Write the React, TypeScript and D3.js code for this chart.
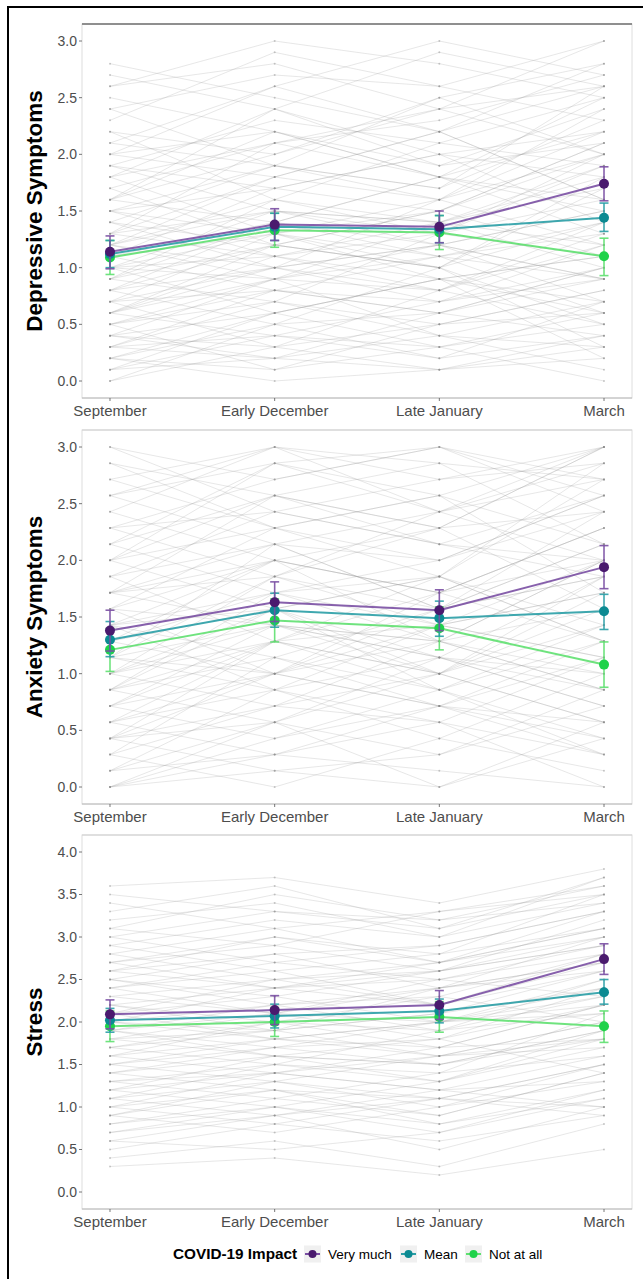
import React from 'react';
import * as d3 from 'd3';

const timepoints = ['September', 'Early December', 'Late January', 'March'];
const groups = ['Very much', 'Mean', 'Not at all'];
const pointColors = ['#4a1a6e', '#0c8a92', '#1fd24a'];
const lineColors = ['#7a4fa3', '#2a9ea6', '#5fe070'];

// Depressive symptoms
const depMean = [[1.14, 1.38, 1.36, 1.74], [1.12, 1.36, 1.34, 1.44], [1.09, 1.33, 1.31, 1.10]];
const depLo = [[0.99, 1.24, 1.22, 1.59], [1.0, 1.24, 1.22, 1.32], [0.94, 1.18, 1.16, 0.93]];
const depHi = [[1.28, 1.52, 1.50, 1.89], [1.24, 1.48, 1.46, 1.57], [1.24, 1.48, 1.46, 1.26]];
// Anxiety symptoms
const anxMean = [[1.38, 1.63, 1.56, 1.94], [1.30, 1.56, 1.49, 1.55], [1.21, 1.47, 1.40, 1.08]];
const anxLo = [[1.20, 1.46, 1.38, 1.75], [1.15, 1.41, 1.33, 1.39], [1.02, 1.28, 1.21, 0.88]];
const anxHi = [[1.56, 1.81, 1.74, 2.13], [1.46, 1.71, 1.64, 1.70], [1.40, 1.66, 1.59, 1.28]];
// Stress
const strMean = [[2.09, 2.14, 2.20, 2.74], [2.02, 2.07, 2.13, 2.35], [1.95, 2.00, 2.06, 1.95]];
const strLo = [[1.92, 1.97, 2.03, 2.56], [1.88, 1.93, 1.99, 2.21], [1.77, 1.83, 1.88, 1.76]];
const strHi = [[2.26, 2.31, 2.37, 2.92], [2.16, 2.21, 2.27, 2.50], [2.13, 2.17, 2.24, 2.13]];

// Individual trajectories (depressive: tenths)
const depIndiv = [
  [5,8,6,10],[12,15,14,18],[3,2,4,1],[20,22,18,25],[8,10,12,9],[15,13,16,20],[1,4,3,6],[26,28,24,30],[10,9,11,14],[6,12,10,5],
  [18,24,20,22],[2,0,1,3],[14,19,17,26],[9,7,13,11],[22,16,21,19],[4,6,9,2],[11,14,12,15],[7,3,5,8],[16,20,25,28],[13,11,9,6],
  [0,5,2,4],[24,27,26,23],[19,15,14,12],[3,8,7,10],[12,18,22,16],[28,25,22,26],[6,9,4,7],[10,13,15,21],[17,12,10,14],[5,1,3,0],
  [21,26,30,27],[8,14,11,13],[15,17,20,18],[2,5,6,9],[11,8,6,4],[25,22,19,24],[9,16,13,20],[4,3,8,5],[13,21,18,16],[7,10,7,12],
  [1,2,1,4],[16,14,18,22],[23,29,26,30],[10,6,9,7],[14,12,15,11],[6,11,14,17],[19,23,21,25],[3,7,5,8],[12,10,12,15],[20,18,22,16],
  [8,5,10,3],[26,30,28,25],[0,3,1,2],[15,19,16,24],[11,17,20,14],[5,9,8,12],[18,13,11,9],[9,12,10,18],[13,15,13,19],[2,1,5,6],
  [22,20,24,26],[7,13,9,11],[16,24,19,21],[4,9,12,7],[10,11,8,13],[24,19,25,20],[12,16,14,10],[6,4,7,9],[17,21,23,27],[1,6,3,5],
  [14,10,16,12],[9,14,18,15],[20,26,22,28],[3,4,2,7],[11,13,10,17],[27,24,29,26],[8,12,15,20],[5,7,4,3],[15,11,13,16],[13,18,16,22],
  [19,17,15,21],[7,8,11,6],[10,15,12,9],[2,6,9,11],[21,19,17,23],[6,10,8,14],[12,9,14,19],[16,22,18,13],[4,2,6,10],[18,21,24,20],
];
// Anxiety: sevenths
const anxIndiv = [
  [7,10,9,14],[3,5,4,2],[14,18,16,21],[0,2,1,0],[10,12,13,9],[5,9,7,11],[18,21,19,20],[8,6,10,12],[12,15,11,17],[1,4,0,3],
  [16,13,17,19],[6,8,5,4],[9,14,12,16],[21,19,21,18],[4,7,9,6],[11,10,8,13],[2,0,3,1],[13,17,15,14],[7,11,6,9],[15,20,18,21],
  [0,3,5,2],[10,8,11,15],[19,16,14,17],[5,10,8,7],[12,14,16,11],[3,1,2,5],[8,13,10,12],[17,21,20,15],[6,4,7,10],[14,11,13,9],
  [1,6,4,8],[20,18,16,21],[9,7,12,14],[4,9,6,3],[11,16,13,19],[7,5,9,6],[15,12,10,14],[2,5,7,4],[18,15,17,20],[10,14,9,11],
  [6,11,8,5],[13,9,12,16],[0,1,0,4],[16,19,21,17],[8,10,7,13],[3,7,5,9],[12,18,15,13],[21,17,19,21],[5,3,6,2],[9,12,14,18],
  [11,7,10,8],[4,6,3,7],[14,16,18,12],[7,13,11,15],[1,2,4,0],[17,14,12,16],[10,11,13,20],[6,9,10,8],[19,21,17,14],[3,4,8,6],
  [13,15,14,18],[8,7,5,3],[15,18,20,19],[2,8,6,10],[12,10,9,7],[5,7,11,13],[20,16,18,15],[9,11,7,12],[0,4,2,6],[14,20,17,21],
  [7,9,13,10],[11,14,12,9],[4,2,5,8],[16,17,15,18],[6,12,9,14],[10,6,8,5],[18,20,21,19],[3,9,7,4],[12,13,16,17],[8,15,11,13],
];
// Stress: tenths
const strIndiv = [
  [20,22,19,25],[15,17,18,14],[25,28,24,30],[8,10,7,12],[30,27,29,33],[12,14,16,18],[18,21,20,23],[22,19,24,27],[10,8,11,9],[27,30,28,35],
  [14,16,13,19],[6,9,5,10],[23,25,26,29],[17,15,19,21],[33,36,31,37],[11,13,10,15],[19,22,23,20],[26,24,27,31],[9,12,8,11],[21,18,20,24],
  [16,20,17,22],[29,32,30,34],[13,11,14,16],[24,26,22,28],[4,6,3,8],[20,19,21,26],[28,31,27,33],[7,9,11,10],[15,18,16,20],[35,33,32,36],
  [12,10,13,17],[22,24,25,23],[18,16,15,19],[31,29,33,35],[10,14,12,13],[25,23,26,30],[5,8,6,9],[19,17,20,25],[27,29,26,32],[14,12,11,15],
  [21,23,20,22],[8,11,9,14],[32,34,30,37],[16,14,17,18],[24,27,25,29],[11,9,12,10],[20,24,22,27],[29,26,28,31],[13,15,14,21],[17,20,19,23],
  [36,37,34,38],[9,7,10,13],[23,21,24,26],[15,13,16,17],[26,28,29,33],[6,5,7,11],[19,21,18,22],[30,33,31,35],[12,16,15,19],[22,20,23,28],
  [3,4,2,5],[18,19,21,24],[28,25,27,30],[10,12,9,14],[25,22,24,27],[14,17,15,18],[34,31,33,36],[16,18,20,21],[21,25,22,26],[7,10,8,12],
  [27,24,26,29],[13,14,12,16],[20,18,17,22],[31,35,32,34],[11,15,13,18],[24,21,25,28],[17,19,16,20],[9,13,11,15],[26,30,27,31],[19,16,18,24],
];

const depTicks = [0, 0.5, 1, 1.5, 2, 2.5, 3];
const anxTicks = [0, 0.5, 1, 1.5, 2, 2.5, 3];
const strTicks = [0, 0.5, 1, 1.5, 2, 2.5, 3, 3.5, 4];

const panels = [
  { title: 'Depressive Symptoms', top: 24, max: 3, ticks: depTicks, mean: depMean, lo: depLo, hi: depHi, indiv: depIndiv, div: 10, strongTop: true },
  { title: 'Anxiety Symptoms', top: 430, max: 3, ticks: anxTicks, mean: anxMean, lo: anxLo, hi: anxHi, indiv: anxIndiv, div: 7, strongTop: false },
  { title: 'Stress', top: 835, max: 4, ticks: strTicks, mean: strMean, lo: strLo, hi: strHi, indiv: strIndiv, div: 10, strongTop: false },
];

const FONT = '"Liberation Sans", Arial, Helvetica, sans-serif';
const LEFT = 82;
const RIGHT = 632;
const PH = 374;

function Panel({ p }: { p: any }) {
  const x = d3.scalePoint<string>().domain(timepoints).range([LEFT, RIGHT]).padding(0.17);
  const pad = p.max * 0.05;
  const y = d3.scaleLinear().domain([-pad, p.max + pad]).range([p.top + PH, p.top]);
  const line = d3.line<number>().x((_, i) => x(timepoints[i]) as number).y((d) => y(d));
  const bottom = p.top + PH;
  const order = [2, 1, 0];
  return (
    <g>
      <rect x={LEFT} y={p.top} width={RIGHT - LEFT} height={PH} fill="#fff" stroke="#dedede" strokeWidth={1} />
      <line x1={LEFT} x2={RIGHT} y1={p.top} y2={p.top} stroke={p.strongTop ? '#8f8f8f' : '#d0d0d0'} strokeWidth={p.strongTop ? 2 : 1} />
      <line x1={LEFT} x2={RIGHT} y1={bottom} y2={bottom} stroke="#b8b8b8" strokeWidth={1} />
      {p.indiv.map((tr: number[], i: number) => (
        <path key={'l' + i} d={line(tr.map((v) => v / p.div)) || ''} fill="none" stroke="#9c9c9c" strokeOpacity={0.3} strokeWidth={0.8} />
      ))}
      {p.indiv.map((tr: number[], i: number) =>
        tr.map((v, j) => (
          <circle key={'d' + i + '-' + j} cx={x(timepoints[j])} cy={y(v / p.div)} r={1} fill="#8a8a8a" fillOpacity={0.45} />
        ))
      )}
      {p.ticks.map((t: number) => (
        <g key={'yt' + t}>
          <line x1={LEFT - 3} x2={LEFT} y1={y(t)} y2={y(t)} stroke="#555" strokeWidth={0.8} />
          <text x={LEFT - 5} y={y(t)} dy="0.35em" textAnchor="end" fontSize={14} fill="#4d4d4d" fontFamily={FONT}>
            {t.toFixed(1)}
          </text>
        </g>
      ))}
      {timepoints.map((tp) => (
        <g key={'xt' + tp}>
          <line x1={x(tp)} x2={x(tp)} y1={bottom} y2={bottom + 3} stroke="#555" strokeWidth={0.8} />
          <text x={x(tp)} y={bottom + 17.5} textAnchor="middle" fontSize={15} fill="#4d4d4d" fontFamily={FONT}>
            {tp}
          </text>
        </g>
      ))}
      <text
        transform={`translate(34,${p.top + PH / 2}) rotate(-90)`}
        textAnchor="middle"
        dy="0.35em"
        fontSize={22.5}
        fontWeight="bold"
        fill="#000"
        fontFamily={FONT}
      >
        {p.title}
      </text>
      {order.map((g) => (
        <g key={'g' + g}>
          <path d={line(p.mean[g]) || ''} fill="none" stroke={lineColors[g]} strokeWidth={2} strokeOpacity={0.9} />
          {p.mean[g].map((m: number, j: number) => {
            const cx = x(timepoints[j]) as number;
            return (
              <g key={'e' + j}>
                <line x1={cx} x2={cx} y1={y(p.lo[g][j])} y2={y(p.hi[g][j])} stroke={lineColors[g]} strokeWidth={1.6} strokeOpacity={0.9} />
                <line x1={cx - 4.5} x2={cx + 4.5} y1={y(p.lo[g][j])} y2={y(p.lo[g][j])} stroke={lineColors[g]} strokeWidth={1.6} strokeOpacity={0.9} />
                <line x1={cx - 4.5} x2={cx + 4.5} y1={y(p.hi[g][j])} y2={y(p.hi[g][j])} stroke={lineColors[g]} strokeWidth={1.6} strokeOpacity={0.9} />
                <circle cx={cx} cy={y(m)} r={5} fill={pointColors[g]} />
              </g>
            );
          })}
        </g>
      ))}
    </g>
  );
}

function Legend() {
  const keyX = [304, 400, 465];
  const textX = [328, 424, 489];
  const cy = 1254;
  return (
    <g fontFamily={FONT}>
      <text x={173} y={cy} dy="0.35em" fontSize={15.3} fontWeight="bold" fill="#000">COVID-19 Impact</text>
      {groups.map((g, i) => (
        <g key={g}>
          <rect x={keyX[i]} y={cy - 8.5} width={17} height={17} fill="#f0f0f0" />
          <line x1={keyX[i] + 1} x2={keyX[i] + 16} y1={cy} y2={cy} stroke={lineColors[i]} strokeWidth={2} />
          <circle cx={keyX[i] + 8.5} cy={cy} r={4} fill={pointColors[i]} />
          <text x={textX[i]} y={cy} dy="0.35em" fontSize={13.5} fill="#000">{g}</text>
        </g>
      ))}
    </g>
  );
}

export default function App() {
  return (
    <svg
      width={643}
      height={1279}
      viewBox="0 0 643 1279"
      style={{ position: 'absolute', left: 0, top: 0, display: 'block', background: '#fff' }}
    >
      <rect x={0} y={0} width={643} height={1279} fill="#fff" />
      <rect x={8} y={7} width={700} height={1300} fill="none" stroke="#000" strokeWidth={2} />
      {panels.map((p) => (
        <Panel key={p.title} p={p} />
      ))}
      <Legend />
    </svg>
  );
}
